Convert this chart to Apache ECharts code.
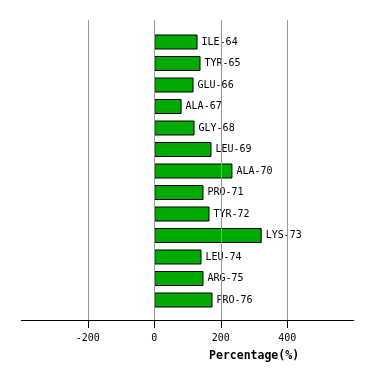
<!DOCTYPE html>
<html><head><meta charset="utf-8">
<script src="https://cdn.jsdelivr.net/npm/echarts@6/dist/echarts.min.js"></script>
<style>html,body{margin:0;padding:0;background:#fff}#c{width:374px;height:381px}</style>
</head><body><div id="c"></div>
<script>
const categories = ['ILE-64','TYR-65','GLU-66','ALA-67','GLY-68','LEU-69','ALA-70','PRO-71','TYR-72','LYS-73','LEU-74','ARG-75','PRO-76'];
const values = [130,139,118,82,121,172,235,148,166,323,142,148,175];
const tickValues = [-200,0,200,400];
const axisName = 'Percentage(%)';
const FONT = 'DejaVu Sans Mono';
const chart = echarts.init(document.getElementById('c'));
chart.setOption({
  animation:false,
  grid:[
    {left:21.3, width:332.5, top:20, height:300},
    {left:21.3, width:332.5, top:31.25, height:279.5},
    {left:21.3, width:332.5, top:320, height:8}
  ],
  xAxis:[
    {gridIndex:0, type:'value', min:-400, max:600, interval:200, z:5,
     name:axisName, nameLocation:'middle', nameGap:30,
     nameTextStyle:{fontFamily:FONT, fontWeight:'bold', fontSize:11.5, color:'#000', padding:[0,0,0,133]},
     axisLine:{show:true, lineStyle:{color:'#000', width:1}},
     axisTick:{show:false},
     axisLabel:{showMinLabel:false, showMaxLabel:false, margin:13, color:'#000', fontFamily:FONT, fontSize:10},
     splitLine:{show:true, showMinLine:false, showMaxLine:false, lineStyle:{color:'#999', width:1}}
    },
    {gridIndex:1, type:'value', min:-400, max:600, show:false, splitLine:{show:false}},
    {gridIndex:2, type:'value', min:-400, max:600, show:false, splitLine:{show:false}}
  ],
  yAxis:[
    {gridIndex:0, type:'value', min:0, max:1, show:false, splitLine:{show:false}},
    {gridIndex:1, type:'category', data:categories, inverse:true, show:false},
    {gridIndex:2, type:'value', min:0, max:1, show:false, splitLine:{show:false}}
  ],
  series:[{
    type:'bar', xAxisIndex:1, yAxisIndex:1, data:values, barWidth:15,
    itemStyle:{color:'#00aa00', borderColor:'#000', borderWidth:1},
    label:{show:true, position:'right', distance:4, formatter:'{b}', color:'#000', fontFamily:FONT, fontSize:10}
  },{
    type:'line', xAxisIndex:2, yAxisIndex:2, data:[], silent:true,
    markLine:{silent:true, symbol:'none', label:{show:false}, animation:false,
      lineStyle:{color:'#000', width:1, type:'solid'},
      data:tickValues.map(v => ({xAxis:v}))}
  }]
});
</script></body></html>
